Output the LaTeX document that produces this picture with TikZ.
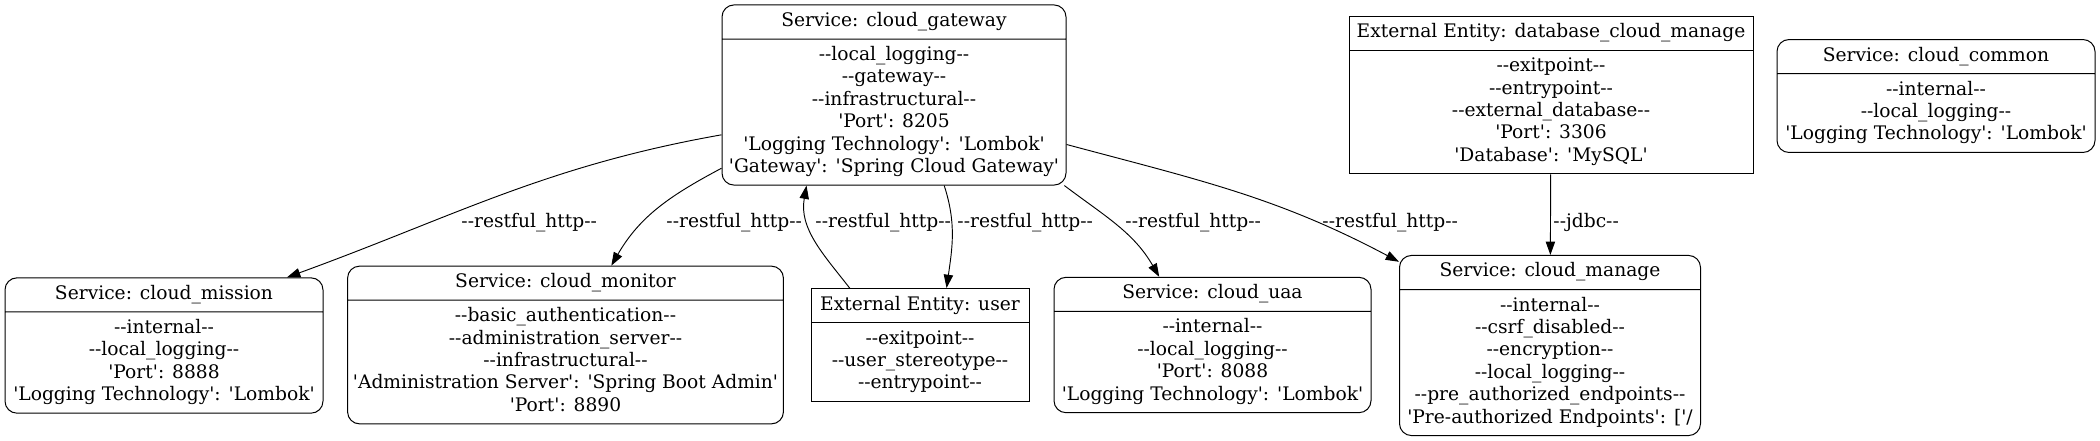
\documentclass[tikz,border=0pt]{standalone}
\usepackage{fontspec}
\newfontfamily\dvserif{DejaVu Serif}
\usetikzlibrary{shapes.multipart,arrows.meta}

\begin{document}
\begin{tikzpicture}[x=0.75pt,y=0.75pt,>={Triangle[length=10pt,width=7pt]},line width=0.7pt,
    box node/.style={rectangle split,rectangle split parts=2,draw,line width=0.75pt,align=center,inner xsep=4pt,inner ysep=4pt,font=\dvserif\fontsize{14}{16.8}\selectfont},
    svc node/.style={box node,rounded corners=9pt},
    ext node/.style={box node},
    lbl/.style={anchor=base west,inner sep=0pt,font=\dvserif\fontsize{14}{16.8}\selectfont}]

            \useasboundingbox (0,0) rectangle (2100,-440);

            % top row
            \node[svc node, minimum width=258pt] (gw) at (894,-95) {\strut Service: cloud\_gateway
                \nodepart{two}\strut --local\_logging--\\ --gateway--\\ --infrastructural--\\ 'Port': 8205\\ 'Logging Technology': 'Lombok'\\ 'Gateway': 'Spring Cloud Gateway'\strut};
            \node[ext node, minimum width=303pt] (db) at (1551,-95) {\strut External Entity: database\_cloud\_manage
                \nodepart{two}\strut --exitpoint--\\ --entrypoint--\\ --external\_database--\\ 'Port': 3306\\ 'Database': 'MySQL'\strut};
            \node[svc node, minimum width=238.5pt] (com) at (1936,-96) {\strut Service: cloud\_common
                \nodepart{two}\strut --internal--\\ --local\_logging--\\ 'Logging Technology': 'Lombok'\strut};

            % bottom row
            \node[svc node, minimum width=238.5pt] (mis) at (164,-345.5) {\strut Service: cloud\_mission
                \nodepart{two}\strut --internal--\\ --local\_logging--\\ 'Port': 8888\\ 'Logging Technology': 'Lombok'\strut};
            \node[svc node, minimum width=326.25pt] (mon) at (565.5,-345) {\strut Service: cloud\_monitor
                \nodepart{two}\strut --basic\_authentication--\\ --administration\_server--\\ --infrastructural--\\ 'Administration Server': 'Spring Boot Admin'\\ 'Port': 8890\strut};
            \node[ext node, minimum width=163.5pt] (usr) at (920,-345) {\strut External Entity: user
                \nodepart{two}\strut --exitpoint--\\ --user\_stereotype--\\ --entrypoint--\strut};
            \node[svc node, minimum width=237.75pt] (uaa) at (1212.5,-345) {\strut Service: cloud\_uaa
                \nodepart{two}\strut --internal--\\ --local\_logging--\\ 'Port': 8088\\ 'Logging Technology': 'Lombok'\strut};
            \node[svc node, minimum width=225.75pt] (man) at (1550,-345.5) {\strut Service: cloud\_manage
                \nodepart{two}\strut --internal--\\ --csrf\_disabled--\\ --encryption--\\ --local\_logging--\\ --pre\_authorized\_endpoints--\\ 'Pre-authorized Endpoints': ['/\strut};

            \draw[->] (gw.193) to[out=190,in=20] (mis.29);
            \draw[->] (gw.203) to[out=208,in=60] (mon.60);
            \draw[->] (usr.141) to[out=128,in=-100] (gw.226);
            \draw[->] (gw.299) to[out=-72,in=82] (usr.65);
            \draw[->] (gw.332) to[out=-37,in=120] (uaa.128);
            \draw[->] (gw.344) to[out=-15,in=152] (man.151);
            \draw[->] (db) -- (man);

            \node[lbl] (l1) at (461,-227) {--restful\_http--};
            \node[lbl] (l2) at (666,-227) {--restful\_http--};
            \node[lbl] (l3) at (815,-227) {--restful\_http--};
            \node[lbl] (l4) at (957,-227) {--restful\_http--};
            \node[lbl] (l5) at (1125,-227) {--restful\_http--};
            \node[lbl] (l6) at (1322,-227) {--restful\_http--};
            \node[lbl] (l7) at (1553,-227) {--jdbc--};

\end{tikzpicture}
\end{document}
